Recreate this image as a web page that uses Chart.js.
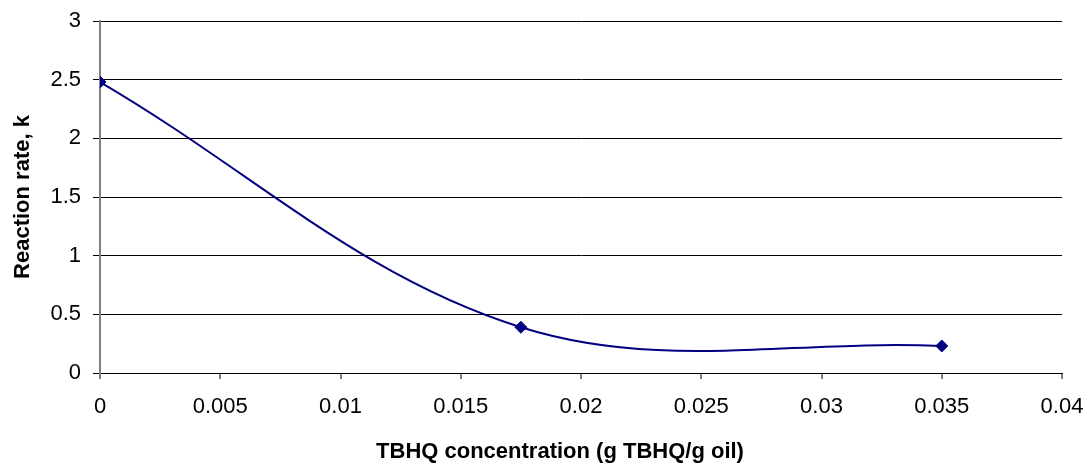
<!DOCTYPE html>
<html>
<head>
<meta charset="utf-8">
<script src="https://cdn.jsdelivr.net/npm/chart.js@4"></script>
<style>
  html, body { margin: 0; padding: 0; background: #ffffff; }
  #wrap { width: 1091px; height: 463px; }
</style>
</head>
<body>
<div id="wrap"><canvas id="c" width="1091" height="463"></canvas></div>
<script>
const concentrations = [0, 0.0175, 0.035];
const reactionRates = [2.48, 0.39, 0.23];
const xTicks = [0, 0.005, 0.01, 0.015, 0.02, 0.025, 0.03, 0.035, 0.04];
const yTicks = [0, 0.5, 1, 1.5, 2, 2.5, 3];
const xTitle = 'TBHQ concentration (g TBHQ/g oil)';
const yTitle = 'Reaction rate, k';

const FONT = '"Liberation Sans", Arial, Helvetica, sans-serif';
const points = concentrations.map((x, i) => ({ x: x, y: reactionRates[i] }));

// Draws the x-axis title slightly left of the plot centre, as in the reference.
const xTitlePlugin = {
  id: 'xTitlePlugin',
  afterDraw(chart) {
    const ctx = chart.ctx;
    const area = chart.chartArea;
    ctx.save();
    ctx.font = 'bold 22px ' + FONT;
    ctx.fillStyle = '#000000';
    ctx.textAlign = 'center';
    ctx.textBaseline = 'alphabetic';
    ctx.fillText(xTitle, (area.left + area.right) / 2 - 21, 458);
    ctx.restore();
  }
};

new Chart(document.getElementById('c'), {
  type: 'scatter',
  data: {
    datasets: [{
      data: points,
      showLine: true,
      borderColor: '#000080',
      backgroundColor: '#000080',
      borderWidth: 2,
      tension: 0.36,
      pointStyle: 'rectRot',
      pointRadius: 6,
      pointBorderWidth: 1,
      pointBorderColor: '#000080',
      pointBackgroundColor: '#000080'
    }]
  },
  plugins: [xTitlePlugin],
  options: {
    responsive: false,
    animation: false,
    layout: { padding: { top: 21, right: 29, left: 0, bottom: 0 } },
    plugins: { legend: { display: false }, tooltip: { enabled: false } },
    scales: {
      x: {
        type: 'linear',
        min: 0, max: 0.04,
        afterBuildTicks: s => { s.ticks = xTicks.map(v => ({ value: v })); },
        afterFit: s => { s.height = 90; s.paddingLeft = 0; s.paddingRight = 0; },
        border: { color: '#000000', width: 1 },
        grid: { drawOnChartArea: false, drawTicks: true, tickLength: 6, color: '#808080', lineWidth: 2 },
        ticks: {
          color: '#000000', padding: 15, maxRotation: 0,
          font: { family: FONT, size: 22 },
          callback: v => String(v)
        },
        title: { display: false, text: xTitle }
      },
      y: {
        type: 'linear',
        min: 0, max: 3,
        afterBuildTicks: s => { s.ticks = yTicks.map(v => ({ value: v })); },
        afterFit: s => { s.width = 100; s.paddingTop = 0; s.paddingBottom = 0; },
        border: { color: '#808080', width: 2 },
        grid: { color: '#000000', lineWidth: 1, tickLength: 7, drawTicks: true },
        ticks: {
          color: '#000000', padding: 12,
          font: { family: FONT, size: 22 },
          callback: v => String(v)
        },
        title: {
          display: true, text: yTitle, color: '#000000',
          font: { family: FONT, size: 22, weight: 'bold' },
          padding: { top: 10, bottom: 0 }
        }
      }
    }
  }
});
</script>
</body>
</html>
